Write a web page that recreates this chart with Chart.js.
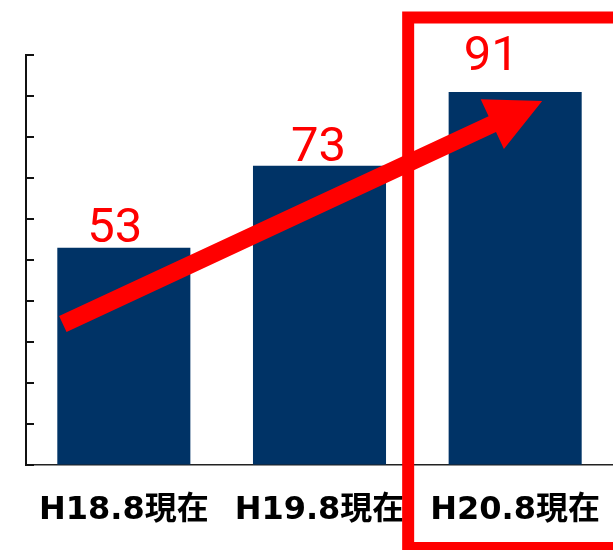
<!DOCTYPE html>
<html>
<head>
<meta charset="utf-8">
<script src="https://cdn.jsdelivr.net/npm/chart.js@4"></script>
<style>
  html, body { margin: 0; padding: 0; background: #fff; }
  #c { display: block; }
</style>
</head>
<body>
<canvas id="c" width="613" height="550"></canvas>
<script>
// data
const categories = ['H18.8現在', 'H19.8現在', 'H20.8現在'];
const values = [53, 73, 91];
const yMin = 0;
const yMax = 100;
const yStep = 10;

const NAVY = '#003366';
const RED = '#ff0000';

// value labels (hand placed in the original, so small nudges per bar)
const valueLabels = {
  id: 'valueLabels',
  afterDatasetsDraw(chart) {
    const ctx = chart.ctx;
    const meta = chart.getDatasetMeta(0);
    const shift = [[-9, -6], [-1, -5], [-24, -22]];
    ctx.save();
    ctx.fillStyle = RED;
    ctx.font = '49px Roboto';
    ctx.textAlign = 'center';
    ctx.textBaseline = 'alphabetic';
    meta.data.forEach((bar, i) => {
      ctx.fillText(String(values[i]), bar.x + shift[i][0], bar.y + shift[i][1]);
    });
    ctx.restore();
  }
};

// inward tick marks on the value axis
const innerTicks = {
  id: 'innerTicks',
  afterDraw(chart) {
    const ctx = chart.ctx;
    const y = chart.scales.y;
    const left = chart.chartArea.left;
    ctx.save();
    ctx.strokeStyle = '#111';
    ctx.lineWidth = 2;
    y.ticks.forEach(t => {
      const py = Math.round(y.getPixelForValue(t.value));
      ctx.beginPath();
      ctx.moveTo(left, py);
      ctx.lineTo(left + 8, py);
      ctx.stroke();
    });
    ctx.restore();
  }
};

// red arrow across the bars and the box around the last one
const annotations = {
  id: 'annotations',
  afterDraw(chart) {
    const ctx = chart.ctx;
    const xs = chart.scales.x, ys = chart.scales.y;
    const tail = { x: xs.getPixelForValue(0) - 61, y: ys.getPixelForValue(34.4) };
    const tip = { x: xs.getPixelForValue(2) + 27, y: ys.getPixelForValue(88.8) };
    const dx = tip.x - tail.x, dy = tip.y - tail.y;
    const len = Math.hypot(dx, dy);
    const ux = dx / len, uy = dy / len;
    const nx = -uy, ny = ux;
    const shaftHalf = 8.8, headHalf = 27.5, headLen = 55;
    const bx = tip.x - ux * headLen, by = tip.y - uy * headLen;

    ctx.save();
    ctx.fillStyle = RED;
    ctx.beginPath();
    ctx.moveTo(tail.x + nx * shaftHalf, tail.y + ny * shaftHalf);
    ctx.lineTo(bx + nx * shaftHalf, by + ny * shaftHalf);
    ctx.lineTo(bx + nx * headHalf, by + ny * headHalf);
    ctx.lineTo(tip.x, tip.y);
    ctx.lineTo(bx - nx * headHalf, by - ny * headHalf);
    ctx.lineTo(bx - nx * shaftHalf, by - ny * shaftHalf);
    ctx.lineTo(tail.x - nx * shaftHalf, tail.y - ny * shaftHalf);
    ctx.closePath();
    ctx.fill();

    const cx = xs.getPixelForValue(2);
    ctx.strokeStyle = RED;
    ctx.lineWidth = 12;
    ctx.strokeRect(cx - 107, 17.5, 240, 530.5);
    ctx.restore();
  }
};

new Chart(document.getElementById('c'), {
  type: 'bar',
  data: {
    labels: categories,
    datasets: [{
      data: values,
      backgroundColor: NAVY,
      borderWidth: 0,
      barPercentage: 0.68,
      categoryPercentage: 1
    }]
  },
  options: {
    responsive: false,
    animation: false,
    layout: { padding: { top: 55, left: 0, right: -3, bottom: 0 } },
    plugins: {
      legend: { display: false },
      tooltip: { enabled: false }
    },
    scales: {
      x: {
        grid: { drawOnChartArea: false, drawTicks: false },
        border: { display: true, color: '#222', width: 1.5 },
        ticks: {
          padding: 26,
          color: '#000',
          font: { family: '"DejaVu Sans", "Noto Sans CJK JP"', size: 32, weight: 'bold' }
        },
        afterFit(s) {
          s.height = 85;
          s.paddingLeft = 0;
          s.paddingRight = 0;
        }
      },
      y: {
        min: yMin,
        max: yMax,
        grid: { drawOnChartArea: false, drawTicks: false },
        border: { display: true, color: '#111', width: 2 },
        ticks: { display: false, stepSize: yStep },
        afterFit(s) {
          s.width = 26;
          s.paddingTop = 0;
          s.paddingBottom = 0;
        }
      }
    }
  },
  plugins: [valueLabels, innerTicks, annotations]
});
</script>
</body>
</html>
